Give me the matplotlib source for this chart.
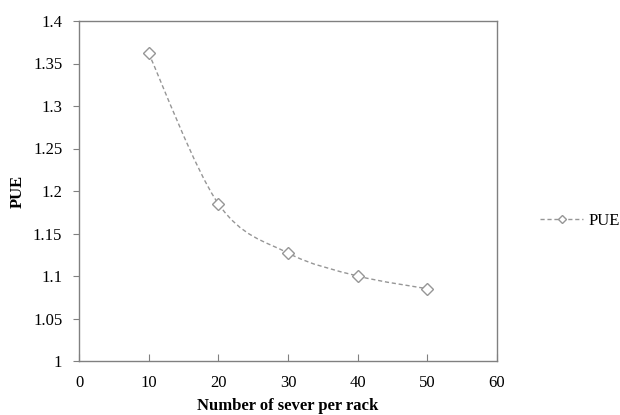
import matplotlib
matplotlib.use("Agg")
import matplotlib.pyplot as plt
from matplotlib.path import Path
from matplotlib.patches import PathPatch
from matplotlib.lines import Line2D

servers = [10, 20, 30, 40, 50]
pue = [1.362, 1.185, 1.127, 1.100, 1.085]

plt.rcParams['font.family'] = ['Liberation Serif', 'DejaVu Serif']

fig = plt.figure(figsize=(6.2, 4.15), dpi=100)
ax = fig.add_axes([79/620, 1-361/415, (497-79)/620, (361-21)/415])

# smoothed line like a spreadsheet chart (bezier through the points)
pts = list(zip(servers, pue))
verts = [pts[0]]
codes = [Path.MOVETO]
for i in range(len(pts)-1):
    p0 = pts[i-1] if i > 0 else pts[i]
    p1 = pts[i]
    p2 = pts[i+1]
    p3 = pts[i+2] if i+2 < len(pts) else pts[i+1]
    c1 = (p1[0] + (p2[0]-p0[0])/6, p1[1] + (p2[1]-p0[1])/6)
    c2 = (p2[0] - (p3[0]-p1[0])/6, p2[1] - (p3[1]-p1[1])/6)
    verts += [c1, c2, p2]
    codes += [Path.CURVE4]*3
line_c = '#969696'
ax.add_patch(PathPatch(Path(verts, codes), facecolor='none', edgecolor=line_c,
                       lw=1.0, linestyle=(0, (3, 2))))
ax.plot(servers, pue, linestyle='none', marker='D', markersize=6,
        markerfacecolor='white', markeredgecolor=line_c, markeredgewidth=1.0)

ax.set_xlim(0, 60)
ax.set_ylim(1, 1.4)
ax.set_xticks(range(0, 61, 10))
yt = [1, 1.05, 1.1, 1.15, 1.2, 1.25, 1.3, 1.35, 1.4]
ax.set_yticks(yt)
ax.set_yticklabels([f"{v:g}" for v in yt])
for s in ax.spines.values():
    s.set_color('#808080')
    s.set_linewidth(1.0)
ax.tick_params(axis='x', direction='in', length=5, color='#808080', labelsize=12, pad=10)
ax.tick_params(axis='y', direction='out', length=4, color='#808080', labelsize=12, pad=8)
ax.set_xlabel('Number of sever per rack', fontsize=12, fontweight='bold', labelpad=5)
ax.set_ylabel('PUE', fontsize=12, fontweight='bold', labelpad=5)

h = Line2D([], [], color=line_c, lw=1.0, linestyle=(0, (3, 2)), marker='D',
           markersize=4.5, markerfacecolor='white', markeredgecolor=line_c)
fig.legend([h], ['PUE'], loc='center left', bbox_to_anchor=(525/620, 1-221/415),
           frameon=False, fontsize=12, handlelength=2.6, handletextpad=0.3)

fig.savefig('out.png', dpi=100)
